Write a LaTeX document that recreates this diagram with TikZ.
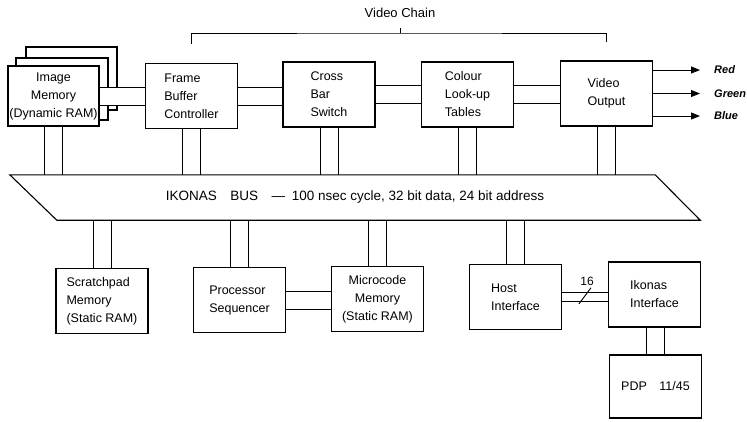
\documentclass[tikz,border=0pt]{standalone}
\usepackage{fontspec}
\setmainfont{Liberation Sans}
\usetikzlibrary{arrows.meta, positioning}

\begin{document}
\begin{tikzpicture}[x=1pt, y=-1pt,
    unit/.style={draw, line width=1.1pt, fill=white, minimum width=92pt, minimum height=65pt,
      inner sep=1pt, align=left, font=\fontsize{12.5}{18}\selectfont},
    link/.style={line width=0.9pt},
    rgb/.style={line width=0.9pt, -{Triangle[length=9pt, width=7pt]}, shorten >=12pt},
    colname/.style={anchor=west, inner sep=2pt, font=\fontsize{11}{13}\selectfont\bfseries\itshape}]
  \useasboundingbox (0,0) rectangle (747,421);

  \node[unit, minimum width=91pt, minimum height=63pt] (im3) at (71.5,78.5) {};
  \node[unit, minimum height=62pt] (im2) at (62,89) {};
  \node[unit, minimum width=91pt, minimum height=60pt, align=center] (im) at (53.5,96) {Image\\Memory\\(Dynamic RAM)};
  \node[unit] (fb) at (191.5,96) {Frame\\Buffer\\Controller};
  \node[unit] (cb) at (329,94.5) {Cross\\Bar\\Switch};
  \node[unit] (cl) at (467.5,94.5) {Colour\\Look-up\\Tables};
  \node[unit] (vo) at (606.5,93.5) {Video\\Output};

  \node[unit] (sp) at (102,301) {Scratchpad\\Memory\\(Static RAM)};
  \node[unit] (ps) at (239.5,300) {Processor\\Sequencer};
  \node[unit, align=center] (mm) at (377.5,299) {Microcode\\Memory\\(Static RAM)};
  \node[unit] (hi) at (515.5,297) {Host\\Interface};
  \node[unit] (ii) at (654.5,294.5) {Ikonas\\Interface};
  \node[unit, minimum height=63pt] (pdp) at (655.5,386.5) {PDP\quad 11/45};

  \node[minimum width=690pt, minimum height=45pt, font=\fontsize{13.5}{15}\selectfont] (bus) at (355,197.5)
    {IKONAS\quad BUS\quad ---\enspace 100 nsec cycle, 32 bit data, 24 bit address};
  \draw[line width=1.1pt] (bus.north west) -- ([xshift=-45pt]bus.north east) -- (bus.south east)
    -- ([xshift=47pt]bus.south west) -- cycle;

  \fill[white] ([yshift=9pt]im.east) rectangle ([yshift=-9pt]im.east -| fb.west);
  \foreach \a/\b in {im/fb, fb/cb, cb/cl, cl/vo, ps/mm}
    \foreach \d in {-9,9}
      \draw[link] ([yshift=\d pt]\a.east) -- ([yshift=\d pt]\a.east -| \b.west);
  \foreach \d in {-4.5,4.5}
    \draw[link] ([yshift=\d pt]hi.east) -- ([yshift=\d pt]hi.east -| ii.west);

  \foreach \b in {im,fb,cb,cl,vo}
    \foreach \d in {-9,9}
      \draw[link] ([xshift=\d pt]\b.south) -- ([xshift=\d pt]\b.south |- bus.north);
  \foreach \b in {sp,ps,mm,hi}
    \foreach \d in {-9,9}
      \draw[link] ([xshift=\d pt]\b.north) -- ([xshift=\d pt]\b.north |- bus.south);
  \foreach \d in {-9,9}
    \draw[link] ([xshift=\d pt]pdp.north) -- ([xshift=\d pt]pdp.north |- ii.south);

  \path (hi.east) -- (ii.west) coordinate[pos=0.5] (mid);
  \draw[link] ([shift={(-6,8)}]mid) -- ([shift={(6,-8)}]mid);
  \node[font=\fontsize{12}{13}\selectfont, inner sep=1pt] (width) at ([shift={(2,-14)}]mid) {16};

  \node[colname] (red) at (712,70) {Red};
  \node[colname] (green) at (712,93.5) {Green};
  \node[colname] (blue) at (712,116) {Blue};
  \draw[rgb] ([yshift=23.5pt]vo.east) -- (red.west);
  \draw[rgb] (vo.east) -- (green.west);
  \draw[rgb] ([yshift=-22.5pt]vo.east) -- (blue.west);

  \coordinate (brk) at (400,33);
  \node[font=\fontsize{13}{15}\selectfont] (chain) at (400,13) {Video Chain};
  \draw[link] (fb.north) ++(0,-19) |- (brk) -| ([yshift=18pt]vo.north);
  \draw[link] (brk) -- ++(0,-5);
\end{tikzpicture}
\end{document}
